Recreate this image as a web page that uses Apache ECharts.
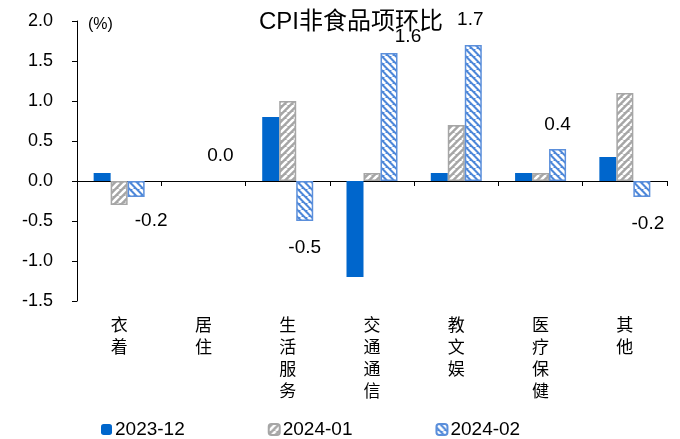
<!DOCTYPE html>
<html><head><meta charset="utf-8">
<script src="https://cdn.jsdelivr.net/npm/echarts@6/dist/echarts.min.js"></script>
<style>html,body{margin:0;padding:0;background:#fff}#c{width:680px;height:439px}</style>
</head><body><div id="c"></div>
<script>
const categories = ['衣着','居住','生活服务','交通通信','教文娱','医疗保健','其他'];
const seriesNames = ['2023-12','2024-01','2024-02'];
const s2312 = [0.1, 0, 0.8, -1.2, 0.1, 0.1, 0.3];
const s2401 = [-0.3, 0, 1.0, 0.1, 0.7, 0.1, 1.1];
const s2402 = [-0.2, 0, -0.5, 1.6, 1.7, 0.4, -0.2];
const yTicks = [-1.5, 2.0, 0.5];

// label layout tweaks (style only)
const labelDist = [14, 16, 17, 7, 16, 15, 17];
const labelDx = [15, 0, 0, 19, -3, 0, 6];

function makePattern(bg, dir, w, n) {
  const c = document.createElement('canvas');
  c.width = n; c.height = n;
  const g = c.getContext('2d');
  g.fillStyle = bg; g.fillRect(0,0,n,n);
  g.strokeStyle = '#fff'; g.lineWidth = w;
  g.beginPath();
  if (dir === '/') {
    for (let k=-n;k<=2*n;k+=n){ g.moveTo(k,n); g.lineTo(k+n,0); }
  } else {
    for (let k=-n;k<=2*n;k+=n){ g.moveTo(k,0); g.lineTo(k+n,n); }
  }
  g.stroke();
  return c;
}
const grayPat = makePattern('#A6A6A6', '/', 2.6, 7);
const bluePat = makePattern('#4D87D9', '\\', 3.0, 7);

const chart = echarts.init(document.getElementById('c'), null, {renderer:'canvas'});
const catLabels = categories.map(s => s.split('').join('\n'));

function zeroFix(arr, extra) {
  return arr.map((v,i) => Object.assign({value: v}, v === 0 ? {itemStyle: {borderWidth: 0}} : {}, extra ? extra(v,i) : {}));
}

const d2401 = zeroFix(s2401);
const d2402 = zeroFix(s2402, (v,i) => ({
  label: {
    show: true,
    position: v >= 0 ? 'top' : 'bottom',
    distance: labelDist[i],
    offset: [labelDx[i], 0],
    formatter: p => p.value.toFixed(1)
  }
}));

chart.setOption({
  animation: false,
  textStyle: {fontFamily: 'Arial, "Liberation Sans", sans-serif'},
  title: {
    text: 'CPI非食品项环比',
    left: 346, top: 5, textAlign: 'center',
    textStyle: {fontSize: 24, fontWeight: 'normal', color: '#000',
      fontFamily: '"Liberation Sans", Arial, "Noto Sans CJK SC", sans-serif'}
  },
  graphic: [{type:'text', left: 88, top: 17, style:{text:'(%)', fontSize:16, fill:'#000', fontFamily:'"Liberation Sans", Arial, sans-serif'}}],
  legend: {
    data: seriesNames,
    left: 96, top: 415,
    itemWidth: 11, itemHeight: 11, itemGap: 83,
    textStyle: {fontSize: 19, color: '#000', padding: [0,0,0,-2],
      fontFamily: '"Liberation Sans", Arial, sans-serif'}
  },
  grid: {left: 77, right: 13, top: 21, bottom: 138},
  xAxis: [{
    type: 'category', data: categories, position: 'bottom',
    axisLine: {onZero: true, lineStyle: {color: '#000', width: 1}},
    axisTick: {show: true, length: 5, lineStyle: {color: '#000'}},
    axisLabel: {show: false}
  },{
    type: 'category', data: catLabels, position: 'bottom',
    axisLine: {show: false, onZero: false},
    axisTick: {show: false},
    axisLabel: {show: true, margin: 13, fontSize: 17, lineHeight: 22, color: '#000',
      fontFamily: '"Noto Sans CJK SC", sans-serif', interval: 0, verticalAlign: 'top'}
  }],
  yAxis: {
    type: 'value', min: yTicks[0], max: yTicks[1], interval: yTicks[2],
    axisLine: {show: true, lineStyle: {color: '#000'}},
    axisTick: {show: true, inside: false, length: 5, lineStyle: {color: '#000'}},
    splitLine: {show: false},
    axisLabel: {margin: 24, fontSize: 18, color: '#000', formatter: v => v.toFixed(1),
      fontFamily: '"Liberation Sans", Arial, sans-serif'}
  },
  series: [{
    name: seriesNames[0], type: 'bar', data: s2312, barWidth: 17, barGap: '0%',
    itemStyle: {color: '#0066CC'}
  },{
    name: seriesNames[1], type: 'bar', data: d2401, barWidth: 17, barGap: '0%',
    itemStyle: {color: {image: grayPat, repeat: 'repeat'}, borderColor: '#A6A6A6', borderWidth: 1.5}
  },{
    name: seriesNames[2], type: 'bar', data: d2402, barWidth: 17, barGap: '0%',
    itemStyle: {color: {image: bluePat, repeat: 'repeat'}, borderColor: '#5B8FDB', borderWidth: 1.5},
    label: {fontSize: 19, color: '#000', fontFamily: '"Liberation Sans", Arial, sans-serif'}
  }]
});
</script></body></html>
